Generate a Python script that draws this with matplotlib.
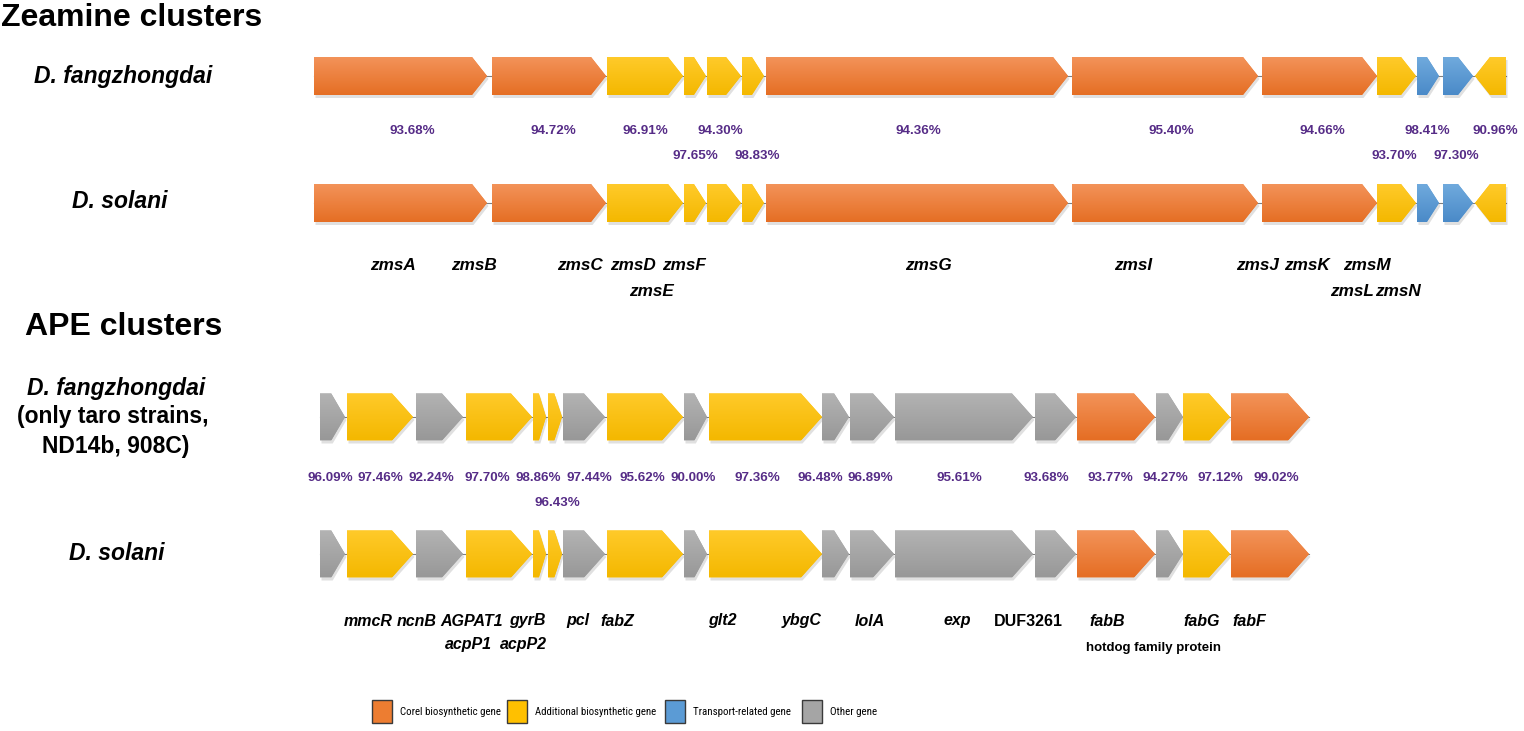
import matplotlib
matplotlib.use("Agg")
import matplotlib.pyplot as plt
from matplotlib.patches import Polygon, Rectangle
from matplotlib import font_manager
import matplotlib.colors as mcolors
import numpy as np

plt.rcParams['font.family'] = ['Liberation Sans', 'DejaVu Sans']

# Zeamine cluster genes (positions on the drawing scale)
zms_names = ['zmsA', 'zmsB', 'zmsC', 'zmsD', 'zmsE', 'zmsF', 'zmsG',
             'zmsI', 'zmsJ', 'zmsK', 'zmsL', 'zmsM', 'zmsN']
zms_start = [314, 492, 607, 684, 707, 742, 766, 1072, 1262, 1377, 1417, 1443, 1475]
zms_end = [487, 606, 683, 706, 741, 764, 1068, 1258, 1377, 1416, 1439, 1473, 1506]
zms_strand = [1, 1, 1, 1, 1, 1, 1, 1, 1, 1, 1, 1, -1]
zms_type = ['core', 'core', 'add', 'add', 'add', 'add', 'core',
            'core', 'core', 'add', 'trans', 'trans', 'add']
zms_identity = ['93.68%', '94.72%', '96.91%', '97.65%', '94.30%', '98.83%', '94.36%',
                '95.40%', '94.66%', '93.70%', '98.41%', '97.30%', '90.96%']

# APE cluster genes
ape_names = ['', 'mmcR', 'ncnB', 'AGPAT1', 'acpP1', 'acpP2', 'gyrB', 'pcl', 'fabZ',
             'glt2', 'ybgC', 'lolA', 'exp', 'DUF3261', 'fabB',
             'hotdog family protein', 'fabG', 'fabF']
ape_start = [320, 347, 416, 466, 533, 548, 563, 607, 684, 709, 822, 850, 895,
             1035, 1077, 1156, 1183, 1231]
ape_end = [345, 413, 463, 532, 546, 562, 605, 683, 707, 822, 849, 894, 1033,
           1076, 1155, 1183, 1230, 1309]
ape_type = ['other', 'add', 'other', 'add', 'add', 'add', 'other', 'add', 'other',
            'add', 'other', 'other', 'other', 'other', 'core', 'other', 'add', 'core']
ape_identity = ['96.09%', '97.46%', '92.24%', '97.70%', '98.86%', '96.43%', '97.44%',
                '95.62%', '90.00%', '97.36%', '96.48%', '96.89%', '95.61%', '93.68%',
                '93.77%', '94.27%', '97.12%', '99.02%']

legend_types = ['core', 'add', 'trans', 'other']
legend_labels = ['Corel biosynthetic gene', 'Additional biosynthetic gene',
                 'Transport-related gene', 'Other gene']

# layout
base = {'core': '#ED7D31', 'add': '#FFC000', 'trans': '#5B9BD5', 'other': '#A5A5A5'}
grad = {'core': ('#F39359', '#E56E24'), 'add': ('#FFCA2A', '#F4B800'),
        'trans': ('#70AADD', '#4A8AC8'), 'other': ('#B3B3B3', '#989898')}
pct_color = '#562C87'

zms_pct_x = [412, 553, 645, 695, 720, 757, 918, 1171, 1322, 1394, 1427, 1456, 1495]
zms_pct_line = [0, 0, 0, 1, 0, 1, 0, 0, 0, 1, 0, 1, 0]
zms_name_x = [393, 474, 580, 633, 651, 684, 928, 1133, 1258, 1307, 1352, 1367, 1398]
zms_name_line = [0, 0, 0, 0, 1, 0, 0, 0, 0, 0, 1, 0, 1]

ape_pct_x = [330, 380, 431, 487, 538, 557, 589, 642, 693, 757, 820, 870, 959,
             1046, 1110, 1165, 1220, 1276]
ape_pct_line = [0, 0, 0, 0, 0, 1, 0, 0, 0, 0, 0, 0, 0, 0, 0, 0, 0, 0]
ape_name_x = [0, 368, 417, 472, 468, 523, 527, 578, 617, 722, 802, 870, 957,
              1028, 1107, 1153, 1202, 1249]
ape_name_line = [0, 0, 0, 0, 1, 1, 0, 0, 0, 0, 0, 0, 0, 0, 0, 1, 0, 0]

# pick a narrow face for the legend if one is installed
installed = {f.name for f in font_manager.fontManager.ttflist}
narrow = [n for n in ['Liberation Sans Narrow', 'Arial Narrow', 'Roboto Condensed',
                      'DejaVu Sans Condensed', 'Open Sans Condensed'] if n in installed]
legend_family = narrow + ['Liberation Sans', 'DejaVu Sans']

fig = plt.figure(figsize=(15.24, 7.31), dpi=100)
ax = fig.add_axes([0, 0, 1, 1])


def draw_gene(ax, x0, x1, strand, yc, h, head, kind):
    w = x1 - x0
    hl = min(head, 0.55 * w)
    t, b = yc - h / 2, yc + h / 2
    if strand > 0:
        pts = [(x0, t), (x1 - hl, t), (x1, yc), (x1 - hl, b), (x0, b)]
    else:
        pts = [(x1, t), (x0 + hl, t), (x0, yc), (x0 + hl, b), (x1, b)]
    shadow = Polygon([(px + 1.5, py + 3) for px, py in pts], closed=True,
                     facecolor='#000000', alpha=0.12, edgecolor='none', zorder=2)
    ax.add_patch(shadow)
    poly = Polygon(pts, closed=True, facecolor=base[kind], edgecolor='none', zorder=3)
    ax.add_patch(poly)
    c0 = np.array(mcolors.to_rgba(grad[kind][0]))
    c1 = np.array(mcolors.to_rgba(grad[kind][1]))
    f = np.linspace(0, 1, 64)[:, None]
    img = (c0 * (1 - f) + c1 * f)[:, None, :]
    im = ax.imshow(img, extent=(x0, x1, b, t), origin='upper', aspect='auto',
                   interpolation='bilinear', zorder=4)
    im.set_clip_path(poly)


def draw_row(ax, starts, ends, strands, kinds, yc, h, head):
    ax.plot([starts[0], ends[-1]], [yc, yc], color='#7F7F7F', lw=0.8, zorder=1)
    for x0, x1, s, k in zip(starts, ends, strands, kinds):
        draw_gene(ax, x0, x1, s, yc, h, head, k)


# Zeamine rows
for yc in (76, 203):
    draw_row(ax, zms_start, zms_end, zms_strand, zms_type, yc, 38, 15)
for lab, x, ln in zip(zms_identity, zms_pct_x, zms_pct_line):
    ax.text(x, 131 + 25 * ln, lab, color=pct_color, fontsize=9.6, fontweight='bold',
            ha='center', va='center')
for lab, x, ln in zip(zms_names, zms_name_x, zms_name_line):
    ax.text(x, 266 + 26 * ln, lab, fontsize=12.3, fontweight='bold', style='italic',
            ha='center', va='center')

# APE rows
ape_strand = [1] * len(ape_start)
for yc in (417, 554):
    draw_row(ax, ape_start, ape_end, ape_strand, ape_type, yc, 47, 21)
for lab, x, ln in zip(ape_identity, ape_pct_x, ape_pct_line):
    ax.text(x, 478 + 25 * ln, lab, color=pct_color, fontsize=9.6, fontweight='bold',
            ha='center', va='center')
for lab, x, ln in zip(ape_names, ape_name_x, ape_name_line):
    if not lab:
        continue
    if lab == 'hotdog family protein':
        ax.text(x, 648, lab, fontsize=9.5, fontweight='bold', ha='center', va='center')
    elif lab == 'DUF3261':
        ax.text(x, 621, lab, fontsize=11.5, fontweight='bold', ha='center', va='center')
    else:
        ax.text(x, 621 + 23 * ln, lab, fontsize=11.5, fontweight='bold', style='italic',
                ha='center', va='center')

# titles and species labels
ax.text(1, 18, 'Zeamine clusters', fontsize=23, fontweight='bold', ha='left', va='center')
ax.text(25, 327, 'APE clusters', fontsize=23, fontweight='bold', ha='left', va='center')
ax.text(123, 77, 'D. fangzhongdai', fontsize=16.5, fontweight='bold', style='italic',
        ha='center', va='center')
ax.text(120, 202, 'D. solani', fontsize=16.5, fontweight='bold', style='italic',
        ha='center', va='center')
ax.text(116, 388, 'D. fangzhongdai', fontsize=16.5, fontweight='bold', style='italic',
        ha='center', va='center')
ax.text(113, 417, '(only taro strains,', fontsize=16.5, fontweight='bold',
        ha='center', va='center')
ax.text(116, 446, 'ND14b, 908C)', fontsize=16.5, fontweight='bold',
        ha='center', va='center')
ax.text(117, 553, 'D. solani', fontsize=16.5, fontweight='bold', style='italic',
        ha='center', va='center')

# legend: text shrunk to the room the reference gives each entry
leg_box_x = [372, 507, 665, 802]
leg_room = [100, 120, 97, 47]
renderer = fig.canvas.get_renderer()
for k, lab, x, room in zip(legend_types, legend_labels, leg_box_x, leg_room):
    ax.add_patch(Rectangle((x, 700), 20, 23, facecolor=base[k], edgecolor='#3A3A3A',
                           lw=1.0, zorder=3))
    t = ax.text(x + 28, 712, lab, fontsize=10, family=legend_family,
                ha='left', va='center')
    w = t.get_window_extent(renderer).width
    if w > room:
        t.set_fontsize(10 * room / w)

ax.set_xlim(0, 1524)
ax.set_ylim(731, 0)
ax.set_aspect('auto')
ax.axis('off')

fig.savefig('out.png', dpi=100, facecolor='white')
